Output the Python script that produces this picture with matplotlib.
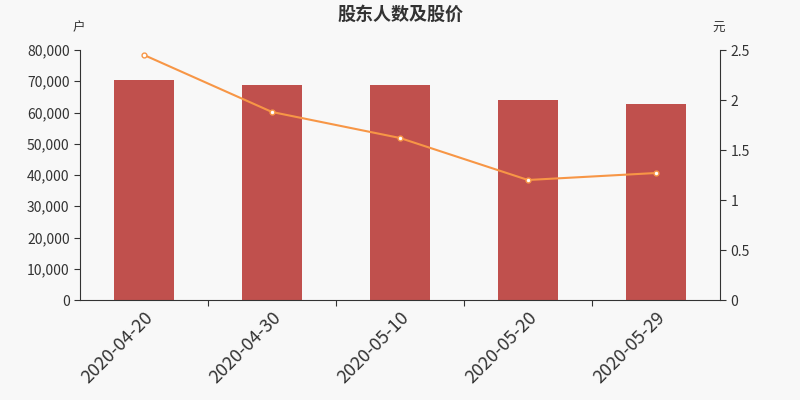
import matplotlib
matplotlib.use("Agg")
import matplotlib.pyplot as plt
from matplotlib.ticker import FuncFormatter

plt.rcParams['font.family'] = ['Noto Sans CJK SC', 'DejaVu Sans']

dates = ["2020-04-20", "2020-04-30", "2020-05-10", "2020-05-20", "2020-05-29"]
holders = [70300, 68700, 68700, 64000, 62700]
price = [2.45, 1.88, 1.62, 1.20, 1.27]

fig = plt.figure(figsize=(8, 4), dpi=100, facecolor="#f8f8f8")
ax = fig.add_axes([0.1, 0.25, 0.8, 0.625])
ax.set_facecolor("#f8f8f8")
x = range(len(dates))
ax.bar(x, holders, width=0.47, color="#c0504d", zorder=2)
ax.set_ylim(0, 80000)
ax.set_yticks(range(0, 80001, 10000))
ax.yaxis.set_major_formatter(FuncFormatter(lambda v, p: f"{int(v):,}"))
ax.set_xlim(-0.5, 4.5)
ax.set_xticks([i - 0.5 for i in range(1, 5)], minor=False)
ax.set_xticklabels([])
ax.set_xticks(list(x), minor=True)
ax.set_xticklabels(dates, minor=True, rotation=45, ha="right", rotation_mode="anchor", fontsize=13, color="#333333")
ax.tick_params(axis="x", which="minor", length=0, pad=6)
ax.tick_params(axis="x", which="major", length=4, color="#333333")
ax.tick_params(axis="y", labelsize=10, colors="#333333", length=4)
for s in ["top", "right"]:
    ax.spines[s].set_visible(False)
ax.spines["left"].set_color("#333333")
ax.spines["bottom"].set_color("#333333")

ax2 = ax.twinx()
ax2.plot(list(x), price, color="#f79646", lw=1.5, marker="o", ms=3.5,
         markerfacecolor="white", markeredgecolor="#f79646", zorder=3)
ax2.set_ylim(0, 2.5)
ax2.set_yticks([0, 0.5, 1, 1.5, 2, 2.5])
ax2.set_yticklabels(["0", "0.5", "1", "1.5", "2", "2.5"])
ax2.tick_params(axis="y", labelsize=10, colors="#333333", length=4)
for s in ["top", "left"]:
    ax2.spines[s].set_visible(False)
ax2.spines["right"].set_color("#333333")
ax2.spines["bottom"].set_visible(False)

fig.text(0.5, 0.965, "股东人数及股价", ha="center", va="center", fontsize=13, fontweight="bold", color="#333333")
fig.text(0.098, 0.93, "户", ha="center", va="center", fontsize=9, color="#333333")
fig.text(0.898, 0.93, "元", ha="center", va="center", fontsize=9, color="#333333")

fig.savefig("out.png", dpi=100, facecolor=fig.get_facecolor())
